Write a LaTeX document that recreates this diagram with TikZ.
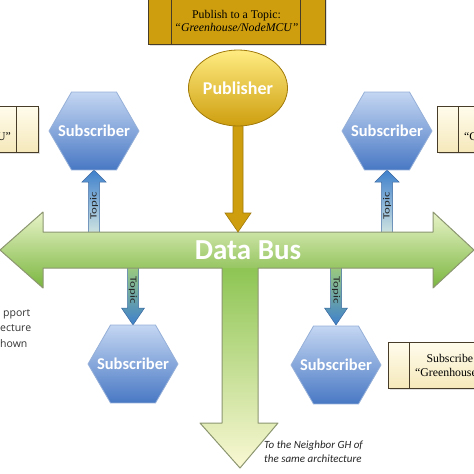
\documentclass[tikz,border=0pt]{standalone}
\usepackage{fontspec}
\setmainfont{Liberation Serif}
\newfontfamily\calib{Carlito}
\newfontfamily\osans{Open Sans}
\usetikzlibrary{shapes.geometric,shadows}
\definecolor{busTop}{RGB}{232,243,200}
\definecolor{busMid}{RGB}{172,214,112}
\definecolor{busBot}{RGB}{122,182,62}
\definecolor{busEdge}{RGB}{140,150,112}
\definecolor{stemTop}{RGB}{140,196,82}
\definecolor{stemMid}{RGB}{222,238,192}
\definecolor{stemBot}{RGB}{250,248,212}
\definecolor{hexTop}{RGB}{196,214,242}
\definecolor{hexMid}{RGB}{125,163,220}
\definecolor{hexBot}{RGB}{72,120,196}
\definecolor{hexEdge}{RGB}{150,176,216}
\definecolor{goldL}{RGB}{255,236,130}
\definecolor{goldM}{RGB}{232,190,30}
\definecolor{goldD}{RGB}{206,158,14}
\definecolor{goldEdge}{RGB}{160,122,10}
\definecolor{creamT}{RGB}{255,252,236}
\definecolor{creamB}{RGB}{245,232,186}
\definecolor{boxEdge}{RGB}{70,60,40}
\definecolor{topicBlue}{RGB}{62,128,204}
\definecolor{topicPale}{RGB}{214,232,226}
\definecolor{topicGreen}{RGB}{160,206,122}
\definecolor{topicEdge}{RGB}{58,104,160}
\begin{document}
\begin{tikzpicture}[x=1pt,y=-1pt,
  hexsub/.style={regular polygon, regular polygon sides=6, minimum size=90pt,
    inner sep=0pt, top color=hexTop, middle color=hexMid, bottom color=hexBot,
    draw=hexEdge, line width=0.8pt,
    label={[text=white, inner sep=0pt, font=\calib\bfseries\fontsize{16.5}{18}\selectfont]center:Subscriber}},
  cardbox/.style={rectangle, minimum width=177pt, minimum height=46pt,
    inner sep=0pt, draw=boxEdge, line width=0.7pt, align=center,
    drop shadow={opacity=0.25, shadow xshift=1.5pt, shadow yshift=-1.5pt},
    font=\fontsize{11.8}{13.8}\selectfont},
  goldcard/.style={cardbox, top color=goldD, middle color=goldL, bottom color=goldD},
  creamcard/.style={cardbox, top color=creamT, bottom color=creamB},
  pubshape/.style={ellipse, minimum width=92pt, minimum height=76pt, inner sep=0pt,
      top color=goldL, middle color=goldM, bottom color=goldD, draw=goldEdge, line width=0.8pt,
      text=white, font=\calib\bfseries\fontsize{18}{20}\selectfont},
  topiclbl/.style={inner sep=0pt, font=\calib\fontsize{9.5}{10}\selectfont, text=black!85},
  topicup/.pic={
    \path[draw=topicEdge, line width=0.5pt, top color=topicBlue, bottom color=topicPale]
      (-5.5,0) -- (-5.5,-54) -- (-12,-54) -- (0,-66) -- (12,-54) -- (5.5,-54) -- (5.5,0) -- cycle;
    \node[topiclbl, rotate=90, xscale=1.35] (-lbl) at (0,-30) {Topic};
  },
  topicdown/.pic={
    \path[draw=topicEdge, line width=0.5pt, top color=topicGreen, middle color=hexMid, bottom color=topicBlue]
      (-5.5,0) -- (-5.5,44) -- (-11.5,44) -- (0,61) -- (11.5,44) -- (5.5,44) -- (5.5,0) -- cycle;
    \node[topiclbl, rotate=-90, xscale=1.35] (-lbl) at (0,26) {Topic};
  },
  txtnode/.style={inner sep=0pt, anchor=base west}
]
\useasboundingbox (0,0) rectangle (474,474);
\clip (0,0) rectangle (474,474);

% subscriber positions
\coordinate (s1) at (94,131);
\coordinate (s2) at (387,131);
\coordinate (s3) at (133,364);
\coordinate (s4) at (336,365);

% bus reference lines
\coordinate (busT) at (0,236);
\coordinate (busB) at (0,264);

% topic arrows
\pic (ta) at (s1 |- busT) {topicup};
\pic (tb) at (s2 |- busT) {topicup};
\pic (tc) at (s3 |- busB) {topicdown};
\pic (td) at (s4 |- busB) {topicdown};

% data bus: down stem and horizontal bar
\path[top color=stemTop, middle color=stemMid, bottom color=stemBot]
  (222,266) -- (258,266) -- (258,423) -- (278,423) -- (240,468) -- (200,423) -- (222,423) -- cycle;
\path[top color=busTop, middle color=busMid, bottom color=busBot]
  (0,250) -- (43,212) -- (43,232) -- (433,232) -- (433,212) -- (474,250) -- (433,288) -- (433,268) -- (43,268) -- (43,288) -- cycle;
\draw[busEdge, line width=1pt, line join=round]
  (0,250) -- (43,212) -- (43,232) -- (433,232) -- (433,212) -- (474,250) -- (433,288) -- (433,268)
  -- (258,268) -- (258,423) -- (278,423) -- (240,468) -- (200,423) -- (222,423) -- (222,268)
  -- (43,268) -- (43,288) -- cycle;
\node[text=white, font=\calib\bfseries\fontsize{29}{30}\selectfont, inner sep=0pt] (bus) at (248,250) {Data Bus};
\coordinate (busIn) at (238,232);

% publisher
\coordinate (pubc) at (238,88);
\path[draw=goldEdge, line width=0.6pt, left color=goldD, middle color=goldL, right color=goldD]
  ([xshift=-5pt]pubc) -- ([xshift=-5pt]pubc |- 0,213) -- ([xshift=-13pt]pubc |- 0,213)
  -- (busIn) -- ([xshift=13pt]pubc |- 0,213) -- ([xshift=5pt]pubc |- 0,213)
  -- ([xshift=5pt]pubc) -- cycle;
\node[pubshape] (pub) at (pubc) {Publisher};

% publish card
\node[goldcard] (pb) at (236.5,21) {Publish to a Topic:\\\textit{“Greenhouse/NodeMCU”}};
\draw[boxEdge, line width=0.7pt] ([xshift=24pt]pb.north west) -- ([xshift=24pt]pb.south west);
\draw[boxEdge, line width=0.7pt] ([xshift=-25pt]pb.north east) -- ([xshift=-25pt]pb.south east);

% subscriber hexagons
\node[hexsub] (h1) at (s1) {};
\node[hexsub] (h2) at (s2) {};
\node[hexsub] (h3) at (s3) {};
\node[hexsub] (h4) at (s4) {};

% subscribe cards (cut by the picture edge)
\node[creamcard] (c1) at (-50.5,129.5) {Subscribe to a Topic:\\“Greenhouse/NodeMCU”};
\node[creamcard] (c2) at (525.5,129.5) {Subscribe to a Topic:\\“Greenhouse/NodeMCU”};
\node[creamcard] (c3) at (476.5,365.5) {Subscribe to a Topic:\\“Greenhouse/NodeMCU”};
\foreach \c in {c1,c2,c3}{
  \draw[boxEdge, line width=0.7pt] ([xshift=22pt]\c.north west) -- ([xshift=22pt]\c.south west);
  \draw[boxEdge, line width=0.7pt] ([xshift=-22pt]\c.north east) -- ([xshift=-22pt]\c.south east);
}

% side texts
\node[txtnode, font=\osans\fontsize{10.5}{12}\selectfont, text=black!80] (l1) at (3,316) {pport};
\node[txtnode, font=\osans\fontsize{10.5}{12}\selectfont, text=black!80] (l2) at (0,331) {ecture};
\node[txtnode, font=\osans\fontsize{10.5}{12}\selectfont, text=black!80] (l3) at (0,347) {hown};
\node[txtnode, font=\calib\itshape\fontsize{11}{12}\selectfont, text=black!85] (n1) at (264,448) {To the Neighbor GH of};
\node[txtnode, font=\calib\itshape\fontsize{11}{12}\selectfont, text=black!85] (n2) at (264,462) {the same architecture};
\end{tikzpicture}
\end{document}
